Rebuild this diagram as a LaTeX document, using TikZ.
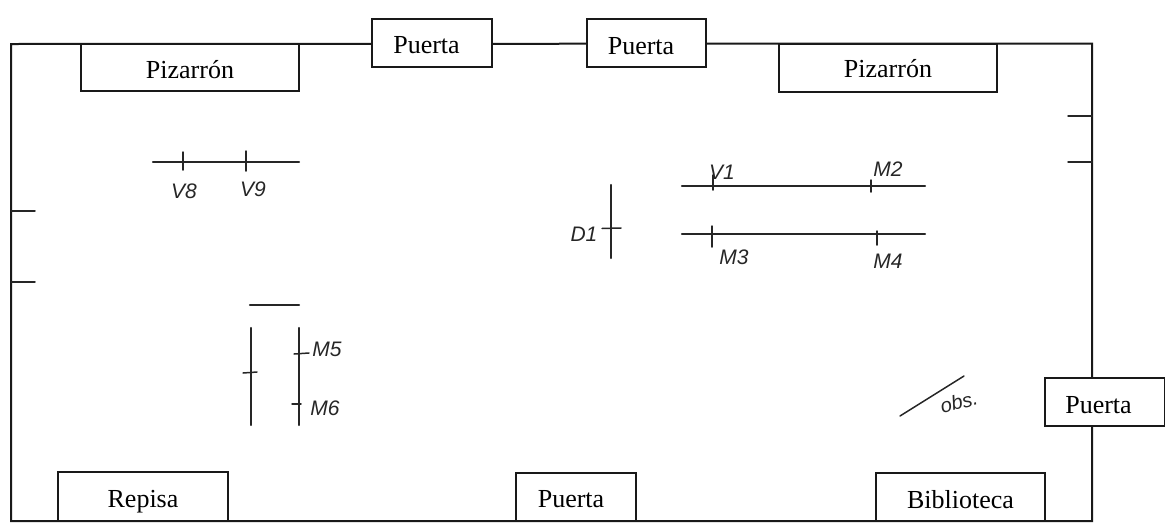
\documentclass[tikz,border=0pt]{standalone}
\usepackage{fontspec}
\setmainfont{Liberation Serif}
\newfontfamily\handfont{Liberation Sans}[ItalicFont=* Italic]
\tikzset{
  wall/.style={line width=2pt,black!90,line join=miter},
  pen/.style={line width=2.2pt,black!85,line cap=round},
  thinpen/.style={line width=1.5pt,black!85,line cap=round},
  furn/.style={draw=black!90,line width=2pt,fill=white,inner sep=0pt,outer sep=0pt,font=\fontsize{26}{28}\selectfont},
  hand/.style={inner sep=0pt,text=black!85,font=\handfont\itshape\fontsize{21}{23}\selectfont},
}
\newcommand{\furnbox}[8]{% name, x1, y1, x2, y2, text, 2*dx, baseline drop
  \node[furn,minimum width=#4pt-#2pt,minimum height=#5pt-#3pt] (#1) at ({(#2+#4)/2},{(#3+#5)/2}) {\raisebox{#8pt}[0pt][0pt]{\makebox[0pt][c]{\hspace*{#7pt}#6}}};}
\begin{document}
\begin{tikzpicture}[x=1pt,y=-1pt]
\useasboundingbox (0,0) rectangle (1165,528);
% room walls
\coordinate (nw) at (11,44);
\coordinate (ne) at (1092,43.5);
\coordinate (se) at (1092,521);
\coordinate (sw) at (11,521);
\draw[wall] (nw) -- (ne) -- (se) -- (sw) -- cycle;
% furniture and doors
\furnbox{pizA}{81}{43.5}{299}{91}{Pizarrón}{0}{-11}
\furnbox{pueA}{372}{19}{492}{67}{Puerta}{-11}{-10}
\furnbox{pueB}{587}{19}{706}{67}{Puerta}{-11}{-11}
\furnbox{pizB}{779}{43.5}{997}{92}{Pizarrón}{0}{-10}
\furnbox{pueR}{1044.5}{378}{1164.5}{426}{Puerta}{-12}{-11}
\furnbox{rep}{58}{472}{228}{521}{Repisa}{0}{-11}
\furnbox{pueS}{516}{473}{636}{521}{Puerta}{-10}{-10}
\furnbox{bib}{876}{473}{1045}{521}{Biblioteca}{0}{-11}
% wall ticks
\draw[thinpen] (11,211) -- (35,211);
\draw[thinpen] (11,282) -- (35,282);
\draw[thinpen] (1068,116) -- (1092,116);
\draw[thinpen] (1068,162) -- (1092,162);
% V8 V9
\draw[pen] (153,162) -- (299,162);
\draw[thinpen] (183,152) -- (183,170);
\draw[thinpen] (246,151) -- (246,171);
\node[hand] (v8) at (184,191) {V8};
\node[hand] (v9) at (253,189) {V9};
% V1 M2
\draw[pen] (682,186) -- (925,186);
\draw[thinpen] (713,175) -- (713,190);
\draw[thinpen] (871,180) -- (871,192);
\node[hand] (v1) at (722,172) {V1};
\node[hand] (m2) at (888,169) {M2};
% M3 M4
\draw[pen] (682,234) -- (925,234);
\draw[thinpen] (712,226) -- (712,247);
\draw[thinpen] (877,231) -- (877,245);
\node[hand] (m3) at (734,257) {M3};
\node[hand] (m4) at (888,261) {M4};
% D1
\draw[pen] (611,185) -- (611,258);
\draw[thinpen] (602,228.5) -- (621,228);
\node[hand] (d1) at (584,234) {D1};
% lower left
\draw[pen] (250,305) -- (299,305);
\draw[pen] (251,328) -- (251,425);
\draw[pen] (299,328) -- (299,425);
\draw[thinpen] (243,373) -- (257,372);
\draw[thinpen] (294,354) -- (309,353);
\draw[thinpen] (292,404) -- (301,404);
\node[hand] (m5) at (327,349) {M5};
\node[hand] (m6) at (325,408) {M6};
% obs
\draw[thinpen] (900,416) -- (964,376);
\node[hand,rotate=14,font=\handfont\itshape\fontsize{20}{22}\selectfont] (obs) at (959,402) {obs.};
\end{tikzpicture}
\end{document}
